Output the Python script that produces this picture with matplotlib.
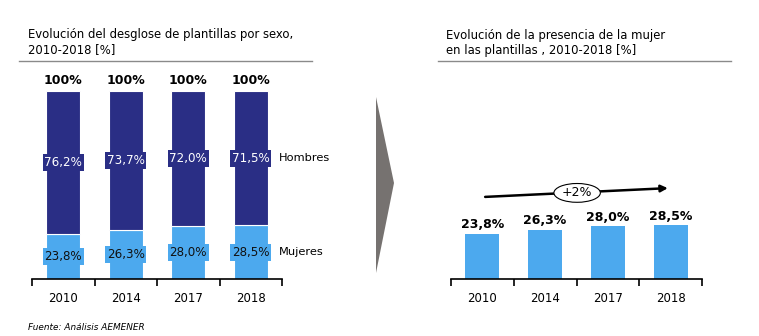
import numpy as np
import matplotlib.pyplot as plt
from matplotlib.patches import Ellipse, Polygon
from matplotlib.lines import Line2D

years = ['2010', '2014', '2017', '2018']
mujeres = [23.8, 26.3, 28.0, 28.5]
hombres = [76.2, 73.7, 72.0, 71.5]
totales = ['100%', '100%', '100%', '100%']

navy = '#2a2e85'
celeste = '#4ca9ee'
W, H = 759, 336

def pct(v):
    return f'{v:.1f}%'.replace('.', ',')

def px_rect(x0, x1, ybot, ytop):
    # pixel box -> figure fraction rect
    return [x0 / W, 1 - ybot / H, (x1 - x0) / W, (ybot - ytop) / H]

def base_axis(ax):
    x = np.arange(len(years))
    ax.set_xlim(-0.5, len(years) - 0.5)
    ax.set_ylim(0, 100)
    for s in ['top', 'right', 'left']:
        ax.spines[s].set_visible(False)
    ax.spines['bottom'].set_linewidth(1.2)
    ax.set_yticks([])
    ax.set_xticks(x)
    ax.set_xticklabels(years, fontsize=8.5)
    ax.set_xticks(np.arange(-0.5, len(years)), minor=True)
    ax.tick_params(axis='x', which='major', length=0, pad=9)
    ax.tick_params(axis='x', which='minor', length=5, width=1.2, direction='out')
    return x

fig = plt.figure(figsize=(W / 100, H / 100), dpi=100)

# stacked bars, left
ax1 = fig.add_axes(px_rect(32, 282, 279, 91))
x = base_axis(ax1)
ax1.bar(x, mujeres, width=0.54, color=celeste, edgecolor='white', linewidth=0.8)
ax1.bar(x, hombres, bottom=mujeres, width=0.54, color=navy, edgecolor='white', linewidth=0.8)
for i in x:
    ax1.text(i, mujeres[i] / 2, pct(mujeres[i]), ha='center', va='center', fontsize=8.6,
             color='#111111', bbox=dict(boxstyle='square,pad=0.15', fc=celeste, ec='none'))
    ax1.text(i, mujeres[i] + hombres[i] / 2, pct(hombres[i]), ha='center', va='center',
             fontsize=8.6, color='white',
             bbox=dict(boxstyle='square,pad=0.15', fc=navy, ec='none'))
    ax1.text(i, 102, totales[i], ha='center', va='bottom', fontsize=9, fontweight='bold')
ax1.text(3.45, mujeres[3] + hombres[3] / 2, 'Hombres', ha='left', va='center', fontsize=8.2)
ax1.text(3.45, mujeres[3] / 2, 'Mujeres', ha='left', va='center', fontsize=8.2)

# women share, right
ax2 = fig.add_axes(px_rect(451, 702, 279, 91))
x = base_axis(ax2)
ax2.bar(x, mujeres, width=0.54, color=celeste)
for i in x:
    ax2.text(i, mujeres[i] + 1.5, pct(mujeres[i]), ha='center', va='bottom',
             fontsize=9, fontweight='bold')
ax2.annotate('', xy=(3.0, 48.4), xytext=(0.0, 43.6),
             arrowprops=dict(arrowstyle='-|>', color='black', lw=1.8, mutation_scale=10),
             annotation_clip=False)
ax2.add_patch(Ellipse((1.51, 45.8), 0.74, 10, fc='white', ec='black', lw=0.8,
                      zorder=5, clip_on=False))
ax2.text(1.51, 45.8, '+2%', ha='center', va='center', fontsize=9, zorder=6)

# titles and separators
fig.text(28 / W, 1 - 42 / H, 'Evolución del desglose de plantillas por sexo,\n2010-2018 [%]',
         fontsize=8.4, ha='left', va='center', linespacing=1.25)
fig.text(446 / W, 1 - 43 / H, 'Evolución de la presencia de la mujer\nen las plantillas , 2010-2018 [%]',
         fontsize=8.4, ha='left', va='center', linespacing=1.25)
for x0, x1 in [(19, 312), (438, 731)]:
    fig.add_artist(Line2D([x0 / W, x1 / W], [1 - 61 / H] * 2, color='#8a8a8a', lw=1))

# chevron between charts
fig.add_artist(Polygon([[376 / W, 1 - 97 / H], [394 / W, 1 - 183 / H], [376 / W, 1 - 273 / H]],
                       closed=True, fc='#767270', ec='none', transform=fig.transFigure))

fig.text(28 / W, 1 - 327 / H, 'Fuente: Análisis AEMENER', fontsize=6.4, style='italic',
         ha='left', va='center')

fig.savefig('out.png', dpi=100)
